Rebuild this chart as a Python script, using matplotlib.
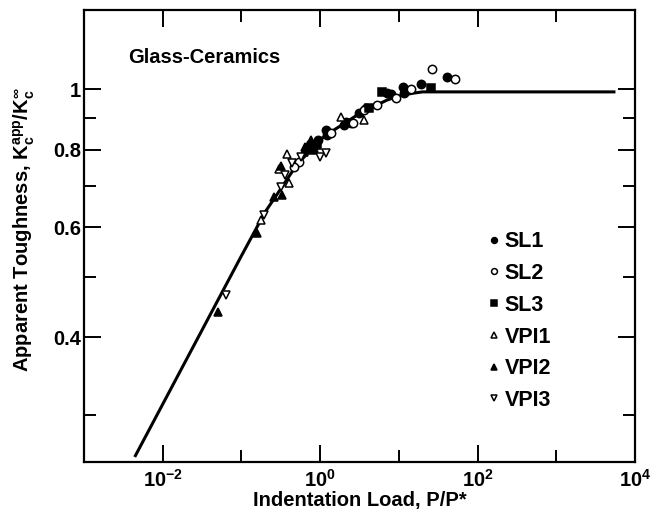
import matplotlib
matplotlib.use("Agg")
import matplotlib.pyplot as plt
from matplotlib.ticker import NullFormatter

# values (P/P*, Kc_app/Kc_inf)
sl1_x = [11.4, 11.6, 7.85, 19.2, 40.3, 3.11, 3.78, 2.10, 2.44, 2.0, 1.17, 1.23, 7.13, 0.85, 0.95]
sl1_y = [1.009, 0.985, 0.981, 1.019, 1.045, 0.915, 0.932, 0.887, 0.882, 0.876, 0.860, 0.844, 0.985, 0.815, 0.83]

sl2_x = [26.0, 51.8, 14.1, 9.27, 5.32, 2.64, 1.36, 0.537, 3.6, 0.46]
sl2_y = [1.076, 1.037, 1.0, 0.969, 0.944, 0.882, 0.849, 0.765, 0.925, 0.75]

sl3_x = [25.3, 6.15, 4.16, 0.9, 0.8]
sl3_y = [1.003, 0.991, 0.932, 0.815, 0.80]

vpi1_x = [3.60, 1.82, 0.383, 0.401, 0.175, 0.30]
vpi1_y = [0.892, 0.903, 0.786, 0.706, 0.616, 0.745]

vpi2_x = [0.76, 0.65, 0.72, 0.62, 0.83, 0.70, 0.315, 0.259, 0.331, 0.156, 0.0504]
vpi2_y = [0.829, 0.808, 0.804, 0.794, 0.804, 0.815, 0.753, 0.672, 0.676, 0.587, 0.439]

vpi3_x = [0.063, 0.193, 0.315, 0.36, 0.443, 0.565, 1.01, 1.2]
vpi3_y = [0.467, 0.628, 0.697, 0.728, 0.760, 0.779, 0.777, 0.789]

curve_x = [4.5e-3, 0.1, 0.2, 0.3, 0.5, 0.7, 1.0, 1.5, 2.0, 3.0, 5.0, 7.0, 10.0, 15.0, 20.0, 5400.0]
curve_y = [0.258, 0.54, 0.635, 0.685, 0.755, 0.79, 0.83, 0.86, 0.88, 0.91, 0.94, 0.96, 0.975, 0.985, 0.99, 0.99]

x_major = [1e-2, 1e0, 1e2, 1e4]
x_major_labels = [r"$10^{-2}$", r"$10^{0}$", r"$10^{2}$", r"$10^{4}$"]
x_minor = [1e-3, 1e-1, 1e1, 1e3]
y_major = [0.4, 0.6, 0.8, 1.0]
y_major_labels = ["0.4", "0.6", "0.8", "1"]
y_minor = [0.3, 0.5, 0.7, 0.9]

plt.rcParams["font.family"] = ["Liberation Sans", "DejaVu Sans"]
plt.rcParams["font.weight"] = "bold"
plt.rcParams["mathtext.fontset"] = "custom"
plt.rcParams["mathtext.rm"] = "Liberation Sans:bold"
plt.rcParams["mathtext.it"] = "Liberation Sans:bold"
plt.rcParams["mathtext.bf"] = "Liberation Sans:bold"
plt.rcParams["mathtext.default"] = "rm"

fig = plt.figure(figsize=(6.58, 5.23), dpi=100)
ax = fig.add_axes([84 / 658, 1 - 462 / 523, 551 / 658, 452 / 523])
ax.set_xscale("log")
ax.set_yscale("log")

ax.plot(curve_x, curve_y, color="black", lw=2.2, zorder=1)

mk = dict(ls="none", ms=6, mec="black", mew=1.1, zorder=3)
ax.plot(sl1_x, sl1_y, marker="o", mfc="black", label="SL1", **mk)
ax.plot(sl2_x, sl2_y, marker="o", mfc="white", label="SL2", **mk)
ax.plot(sl3_x, sl3_y, marker="s", mfc="black", label="SL3", **mk)
ax.plot(vpi1_x, vpi1_y, marker="^", mfc="white", label="VPI1", **mk)
ax.plot(vpi2_x, vpi2_y, marker="^", mfc="black", label="VPI2", **mk)
ax.plot(vpi3_x, vpi3_y, marker="v", mfc="white", label="VPI3", **mk)

ax.set_xlim(1e-3, 1e4)
ax.set_ylim(0.252, 1.34)

ax.set_xticks(x_major)
ax.set_xticklabels(x_major_labels)
ax.set_xticks(x_minor, minor=True)
ax.xaxis.set_minor_formatter(NullFormatter())
ax.set_yticks(y_major)
ax.set_yticklabels(y_major_labels)
ax.set_yticks(y_minor, minor=True)
ax.yaxis.set_minor_formatter(NullFormatter())

ax.tick_params(which="both", direction="in", top=True, right=True, width=1.4)
ax.tick_params(which="major", length=12.5, labelsize=14.5)
ax.tick_params(which="minor", length=8.5)
ax.tick_params(axis="x", which="major", pad=5)
ax.tick_params(axis="y", which="major", pad=2)
for s in ax.spines.values():
    s.set_linewidth(1.6)

ax.text(0.08, 0.896, "Glass-Ceramics", transform=ax.transAxes,
        va="center", fontsize=14.5, fontweight="bold")

ax.set_xlabel("Indentation Load, P/P*", fontsize=14.5, fontweight="bold")
ax.xaxis.set_label_coords(0.5, -0.064)
ax.set_ylabel(r"Apparent Toughness, $K_c^{app}/K_c^{\infty}$",
              fontsize=14.5, fontweight="bold")
ax.yaxis.set_label_coords(-0.085, 0.515)

ax.legend(loc="center left", bbox_to_anchor=(0.7425, 0.386),
          bbox_transform=fig.transFigure, frameon=False,
          handlelength=0.5, handletextpad=0.25, labelspacing=0.5,
          borderpad=0, borderaxespad=0, markerscale=0.7, fontsize=15.5)

fig.savefig("out.png", dpi=100)
